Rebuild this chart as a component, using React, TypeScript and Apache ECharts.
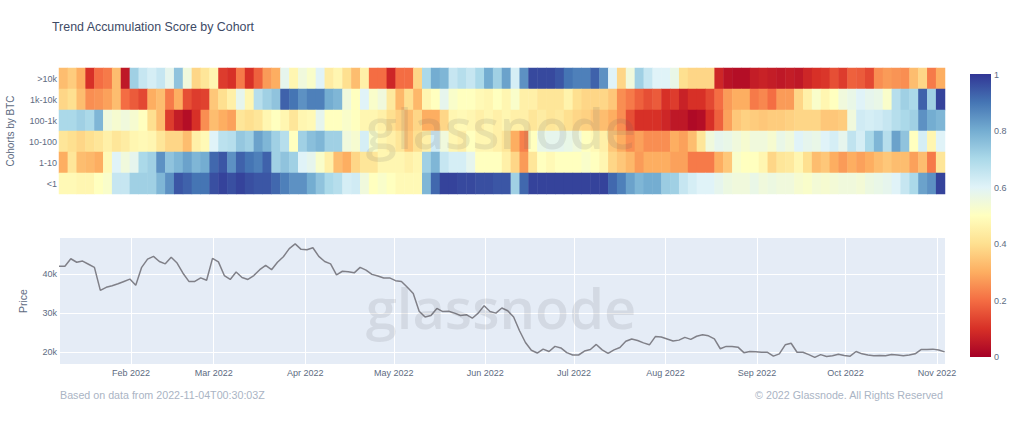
import React, { useEffect, useRef } from "react";
import * as echarts from "echarts";

const cohorts = [">10k", "1k-10k", "100-1k", "10-100", "1-10", "<1"];
const colorScale = ["#a50026", "#d73027", "#f46d43", "#fdae61", "#fee090", "#ffffbf", "#e0f3f8", "#abd9e9", "#74add1", "#4575b4", "#313695"];
const colorbarTicks = ["1", "0.8", "0.6", "0.4", "0.2", "0"];
const priceTicks = [20000, 30000, 40000];

// one value per 3-day column
const above10k = [
  .33,.36,.3,.1,.2,.22,.33,.05,.72,.65,
  .62,.65,.58,.75,.55,.38,.42,.47,.12,.1,
  .22,.1,.18,.27,.3,.58,.47,.55,.52,.6,
  .44,.47,.4,.33,.45,.2,.2,.08,.2,.2,
  .38,.7,.8,.78,.65,.68,.65,.7,.8,.72,
  .82,.62,.85,.97,.97,.97,.95,.9,.88,.88,
  .93,.85,.6,.38,.55,.72,.65,.6,.6,.57,
  .4,.38,.38,.38,.08,.04,.03,.03,.06,.07,
  .06,.05,.06,.05,.08,.1,.11,.15,.12,.18,
  .17,.14,.25,.27,.26,.25,.33,.38,.22,.3,
];
const from1kTo10k = [
  .38,.4,.33,.25,.26,.28,.33,.2,.17,.14,
  .3,.33,.22,.3,.15,.12,.13,.35,.4,.45,
  .58,.47,.68,.72,.75,.93,.9,.85,.88,.88,
  .8,.78,.55,.5,.6,.52,.55,.43,.32,.4,
  .32,.47,.5,.58,.52,.5,.5,.48,.47,.5,
  .47,.52,.45,.45,.42,.42,.42,.46,.4,.38,
  .38,.38,.35,.25,.22,.18,.15,.17,.1,.12,
  .07,.1,.1,.14,.2,.27,.3,.3,.22,.24,
  .2,.27,.27,.38,.45,.52,.47,.5,.55,.57,
  .6,.58,.57,.52,.68,.72,.7,.93,.72,.98,
];
const from100To1k = [
  .7,.7,.72,.7,.78,.55,.53,.55,.53,.5,
  .4,.33,.12,.06,.03,.1,.25,.33,.3,.28,
  .42,.4,.42,.47,.5,.47,.42,.47,.48,.58,
  .5,.5,.52,.5,.47,.47,.45,.4,.37,.33,
  .38,.3,.3,.38,.47,.48,.47,.45,.47,.45,
  .47,.45,.45,.42,.44,.42,.43,.4,.38,.37,
  .35,.33,.3,.25,.15,.1,.1,.1,.08,.05,
  .05,.02,.03,.1,.18,.28,.35,.37,.36,.35,
  .36,.36,.37,.38,.38,.38,.35,.35,.36,.55,
  .63,.62,.63,.65,.68,.7,.72,.85,.8,.78,
];
const from10To100 = [
  .42,.4,.38,.4,.42,.45,.42,.44,.47,.48,
  .47,.42,.38,.38,.33,.45,.48,.6,.67,.68,
  .74,.72,.82,.78,.72,.68,.5,.72,.76,.78,
  .72,.72,.55,.53,.62,.52,.47,.45,.42,.35,
  .4,.45,.63,.55,.47,.45,.5,.47,.47,.45,
  .42,.3,.23,.5,.57,.58,.58,.57,.55,.5,
  .48,.45,.35,.3,.25,.28,.25,.25,.25,.3,
  .28,.33,.42,.55,.58,.57,.55,.53,.55,.55,
  .53,.57,.55,.6,.58,.57,.6,.62,.58,.66,
  .62,.7,.78,.68,.82,.75,.5,.62,.47,.6,
];
const from1To10 = [
  .3,.42,.33,.32,.3,.48,.6,.55,.58,.7,
  .72,.85,.75,.78,.82,.78,.8,.92,.95,.85,
  .93,.9,.88,.93,.72,.75,.72,.6,.58,.52,
  .45,.33,.3,.38,.42,.42,.47,.47,.47,.45,
  .47,.72,.78,.65,.62,.62,.58,.5,.5,.5,
  .45,.38,.27,.42,.5,.48,.5,.5,.5,.52,
  .5,.47,.38,.35,.32,.27,.3,.3,.3,.28,
  .28,.22,.22,.22,.3,.35,.52,.5,.5,.47,
  .38,.42,.43,.47,.4,.33,.35,.3,.27,.3,
  .28,.3,.33,.35,.33,.33,.28,.33,.22,.42,
];
const below1 = [
  .48,.48,.47,.47,.5,.52,.65,.65,.72,.72,
  .72,.78,.85,.95,.93,.9,.9,.96,.98,.96,
  .98,.96,.95,.95,.92,.88,.85,.85,.8,.75,
  .7,.68,.62,.63,.55,.5,.52,.5,.48,.48,
  .48,.78,.92,.98,.98,.97,.97,.96,.96,.95,
  .95,.72,.92,.98,.98,.98,.98,.98,.98,.98,
  .98,.98,.92,.88,.82,.78,.8,.8,.73,.72,
  .65,.62,.6,.6,.58,.56,.55,.55,.57,.55,
  .56,.55,.55,.53,.52,.54,.53,.54,.55,.55,
  .54,.56,.57,.58,.6,.65,.7,.82,.85,.98,
];
const scoreRows = [above10k, from1kTo10k, from100To1k, from10To100, from1To10, below1];

// BTC price in thousands, one reading every 2 days
const priceK = [
  42.0,42.0,43.9,43.0,43.3,42.5,41.7,35.8,36.6,37.0,
  37.5,38.1,38.7,37.1,41.7,43.8,44.5,43.2,42.6,44.3,
  42.8,40.2,38.1,38.1,39.0,38.4,44.0,43.1,39.6,38.6,
  40.5,39.1,38.6,39.6,41.1,42.2,41.1,43.0,44.4,46.5,
  47.7,46.3,46.2,46.7,44.5,43.2,42.6,39.8,40.7,40.6,
  40.3,41.7,41.0,39.9,39.5,39.0,39.0,38.3,38.1,36.6,
  35.0,30.5,29.0,29.4,31.2,30.4,30.5,30.0,29.4,29.6,
  28.7,30.0,31.9,30.4,30.0,31.3,30.6,29.0,25.5,22.5,
  20.5,19.8,20.8,20.2,21.5,21.1,19.9,19.3,19.3,20.3,
  20.7,22.0,20.6,19.7,20.6,21.2,22.8,23.4,23.0,22.4,
  21.9,24.0,23.9,23.4,22.9,23.1,23.8,23.3,24.1,24.5,
  24.2,23.4,20.9,21.5,21.5,21.3,19.9,20.2,20.1,20.0,
  20.0,19.0,19.6,21.9,22.3,20.0,20.0,19.4,18.7,19.4,
  18.9,19.1,19.5,19.2,19.0,20.2,19.6,19.3,19.1,19.2,
  19.1,19.4,19.3,19.1,19.3,19.6,20.7,20.7,20.8,20.6,20.1,
];

const DAY = 86400000;
const startTime = Date.UTC(2022, 0, 7, 14);
const endTime = Date.UTC(2022, 10, 3, 17);

const FONT = "'Liberation Sans', Arial, sans-serif";
const TICK = "#5d6b82";

export default function App() {
  const ref = useRef<HTMLDivElement>(null);
  useEffect(() => {
    const chart = echarts.init(ref.current!, undefined, { renderer: "svg" });
    const columns = above10k.map((_, i) => new Date(startTime + i * 3 * DAY).toISOString().slice(0, 10));
    const heat: number[][] = [];
    scoreRows.forEach((row, r) => row.forEach((v, c) => heat.push([c, r, v])));
    const watermark = (cy: number) => ({
      type: "text", z: 100, silent: true, x: 501, y: cy,
      style: { text: "glassnode", font: `600 56px 'Open Sans', ${FONT}`, fill: "rgba(90,90,100,0.13)", textAlign: "center", textVerticalAlign: "middle" },
    });
    const label = (text: string, x: number, y: number, extra: object = {}) => ({
      type: "text", x, y, silent: true,
      style: { text, font: `10.7px ${FONT}`, fill: "#aab4c4", ...extra },
    });
    chart.setOption({
      animation: false,
      useUTC: true,
      backgroundColor: "#fff",
      title: {
        text: "Trend Accumulation Score by Cohort", left: 47, top: 16,
        textStyle: { fontFamily: FONT, fontSize: 12.4, fontWeight: "normal", color: "#3d4a66" },
      },
      grid: [
        { left: 59, top: 68, width: 886, height: 126, outerBoundsMode: "none" },
        { left: 59, top: 238, width: 886, height: 126, backgroundColor: "#e5ecf6", show: true, borderWidth: 0, outerBoundsMode: "none" },
      ],
      xAxis: [
        { type: "category", gridIndex: 0, data: columns, show: false },
        {
          type: "time", gridIndex: 1, min: startTime, max: endTime, splitNumber: 10,
          minInterval: 28 * DAY, maxInterval: 31 * DAY,
          axisLine: { show: false }, axisTick: { show: false },
          axisLabel: { formatter: "{MMM} {yyyy}", fontFamily: FONT, fontSize: 9, color: TICK, margin: 4, hideOverlap: false },
          splitLine: { show: true, lineStyle: { color: "#ffffff", width: 1 } },
        },
      ],
      yAxis: [
        {
          type: "category", gridIndex: 0, data: cohorts, inverse: true,
          name: "Cohorts by BTC", nameLocation: "middle", nameGap: 44,
          nameTextStyle: { fontFamily: FONT, fontSize: 10, color: TICK },
          axisLine: { show: false }, axisTick: { show: false },
          axisLabel: { fontFamily: FONT, fontSize: 9, color: TICK, margin: 2 },
          splitLine: { show: false },
        },
        {
          type: "value", gridIndex: 1, min: 17000, max: 49200, interval: 1000,
          name: "Price", nameLocation: "middle", nameGap: 31,
          nameTextStyle: { fontFamily: FONT, fontSize: 10.5, color: TICK },
          axisLine: { show: false }, axisTick: { show: false },
          axisLabel: {
            fontFamily: FONT, fontSize: 9, color: TICK, margin: 2,
            formatter: (v: number) => (priceTicks.includes(v) ? `${v / 1000}k` : ""),
          },
          splitLine: { show: false },
        },
      ],
      visualMap: { show: false, min: 0, max: 1, seriesIndex: 0, inRange: { color: colorScale } },
      series: [
        {
          type: "heatmap", xAxisIndex: 0, yAxisIndex: 0, data: heat,
          itemStyle: { borderWidth: 0 }, emphasis: { disabled: true },
          progressive: 0,
        },
        {
          type: "line", xAxisIndex: 1, yAxisIndex: 1, showSymbol: false, symbol: "none", z: 2,
          data: priceK.map((p, i) => [startTime + i * 2 * DAY, p * 1000]),
          lineStyle: { color: "#808088", width: 1.5 },
          markLine: {
            silent: true, symbol: "none", animation: false, z: 1,
            label: { show: false },
            lineStyle: { color: "#ffffff", width: 1, type: "solid" },
            data: priceTicks.map((yAxis) => ({ yAxis })),
          },
        },
      ],
      graphic: [
        watermark(127),
        watermark(307),
        {
          type: "rect", silent: true,
          shape: { x: 970, y: 74, width: 21, height: 283 },
          style: {
            fill: new echarts.graphic.LinearGradient(0, 1, 0, 0,
              colorScale.map((color, i) => ({ offset: i / (colorScale.length - 1), color }))),
          },
        },
        ...colorbarTicks.map((t, i) => label(t, 994, 74.5 + i * 56.5, { font: `9px ${FONT}`, fill: TICK, textVerticalAlign: "middle" })),
        label("Based on data from 2022-11-04T00:30:03Z", 60, 395, { textVerticalAlign: "middle" }),
        label("© 2022 Glassnode. All Rights Reserved", 943, 395, { textAlign: "right", textVerticalAlign: "middle" }),
      ],
    });
    return () => chart.dispose();
  }, []);
  return <div ref={ref} style={{ position: "absolute", left: 0, top: 0, width: 1024, height: 422 }} />;
}
